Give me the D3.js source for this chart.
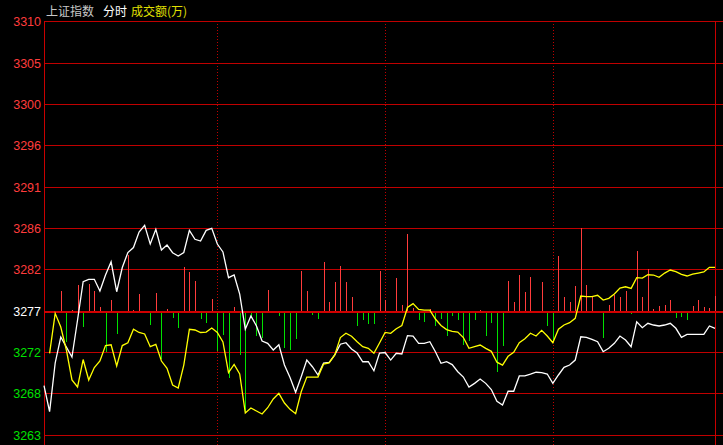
<!DOCTYPE html>
<html><head><meta charset="utf-8">
<script src="https://cdn.jsdelivr.net/npm/d3@7"></script>
<style>html,body{margin:0;padding:0;background:#000;overflow:hidden}</style>
</head><body><svg id="c" width="723" height="445"></svg>
<script>
// ---- data ----
const priceLine = [3268.63,3265.72,3271.18,3274.10,3272.98,3271.85,3276.01,3280.32,3280.59,3280.59,
3279.27,3281.07,3282.56,3279.19,3281.91,3283.60,3284.16,3285.90,3286.66,3284.55,
3286.21,3283.88,3284.44,3283.58,3283.21,3283.60,3286.09,3285.09,3284.89,3286.09,
3286.32,3284.55,3283.66,3280.77,3281.07,3278.93,3274.97,3276.46,3275.34,3273.65,
3273.39,3272.64,3273.23,3270.95,3269.55,3267.88,3269.64,3271.51,3270.76,3269.83,
3271.18,3271.26,3272.08,3273.29,3273.46,3272.75,3272.30,3271.32,3271.32,3270.30,
3272.30,3272.36,3271.51,3272.27,3272.19,3274.25,3274.19,3273.39,3273.39,3273.57,
3272.45,3271.14,3271.32,3271.00,3270.20,3269.60,3268.48,3268.89,3269.38,3268.89,
3268.19,3266.87,3266.46,3268.00,3268.00,3269.72,3269.72,3269.92,3270.14,3270.09,
3269.94,3268.89,3269.83,3270.69,3270.95,3271.51,3274.13,3274.07,3273.84,3273.57,
3272.45,3272.83,3273.39,3274.21,3273.76,3273.01,3275.82,3275.15,3275.64,3275.45,
3275.34,3275.45,3275.64,3275.08,3274.07,3274.40,3274.40,3274.40,3274.40,3275.34,
3275.08];
const avgLine = [null,3272.27,3276.76,3275.22,3272.64,3269.27,3268.48,3271.57,3269.27,3270.67,
3271.40,3273.14,3273.23,3270.84,3273.14,3273.46,3274.97,3274.61,3274.44,3273.01,
3273.28,3271.40,3270.58,3268.70,3268.37,3270.95,3274.97,3274.89,3274.61,3274.66,
3275.11,3274.61,3273.54,3270.11,3271.01,3269.94,3265.56,3266.12,3265.78,3265.44,
3266.15,3267.13,3267.77,3266.68,3265.97,3265.48,3267.95,3269.60,3269.60,3269.60,
3271.06,3271.18,3272.08,3274.04,3274.52,3274.18,3273.57,3273.01,3272.83,3272.27,
3273.43,3274.61,3274.52,3275.03,3275.39,3277.42,3277.85,3277.21,3277.13,3277.13,
3276.12,3275.39,3274.94,3274.74,3274.66,3274.04,3272.83,3273.01,3273.20,3272.83,
3272.49,3271.27,3270.95,3271.93,3272.39,3273.46,3273.90,3274.52,3274.21,3274.85,
3274.21,3273.46,3274.97,3275.45,3275.71,3276.20,3278.71,3278.63,3278.63,3278.79,
3278.26,3278.45,3278.93,3279.61,3279.75,3279.57,3280.77,3280.73,3281.10,3281.07,
3280.81,3281.29,3281.63,3281.44,3281.15,3280.96,3281.16,3281.29,3281.41,3281.94,
3281.94];
const amount = [0,-150,-100,2000,-3100,150,2600,-1600,2700,2000,
400,-4100,1100,-2300,-100,5600,150,1700,0,-1350,
1800,-4750,250,-700,-1700,4400,3900,3000,-800,-1200,
1250,-4000,-2350,-6700,450,-4350,-10000,-600,-2500,-2650,
2150,-100,-500,-3650,-3900,-2800,4050,2000,-350,-800,
4900,900,2900,4550,2900,1450,-1450,-900,-1300,-1300,
4050,1100,0,3350,650,7750,300,-850,-1050,200,
-1500,-800,-2450,-500,-850,-3400,-3000,-900,150,-2450,
-1150,-6100,-3450,3000,900,3650,1900,3400,0,2950,
-1450,-3100,5500,1400,900,2500,8300,2600,1500,0,
-2700,650,1600,1400,2050,-300,6000,1450,4250,250,
550,650,1100,-700,-550,-900,550,1100,450,350,
1500];
const yTicks = [3263.05,3267.70,3272.35,3277.00,3281.65,3286.30,3290.95,3295.60,3300.25,3304.90,3309.55];
const tickLabels = ["3263","3268","3272","3277","3282","3286","3291","3296","3300","3305","3310"];
const prevClose = 3277.00;
const sessionMarks = [31, 61, 91];
const titleParts = [{t:"上证指数", c:"#c8c8c8", x:46},{t:"分时", c:"#ffffff", x:103},{t:"成交额(万)", c:"#e0e000", x:131}];

// ---- layout ----
const svg = d3.select("#c");
const L = 44, R = 715, T = 21.7, B = 435.3, W = 723, H = 445;
svg.append("rect").attr("width", W).attr("height", H).attr("fill", "#000");

const x = d3.scaleLinear().domain([0, priceLine.length - 1]).range([L, R]);
const y = d3.scaleLinear().domain([yTicks[0], yTicks[yTicks.length-1]]).range([B, T]);
const barH = d3.scaleLinear().domain([0, 10000]).range([0, 100]);

// horizontal grid (1px rects on whole pixels)
svg.append("g").selectAll("rect").data(yTicks.filter(d => d !== prevClose)).join("rect")
  .attr("x", L).attr("width", W - L)
  .attr("y", d => Math.floor(y(d))).attr("height", 1)
  .attr("fill", "#c00000").attr("shape-rendering", "crispEdges");

// vertical session lines
svg.append("g").selectAll("line").data(sessionMarks).join("line")
  .attr("x1", d => Math.round(x(d)) + 0.5).attr("x2", d => Math.round(x(d)) + 0.5)
  .attr("y1", Math.floor(T)).attr("y2", H)
  .attr("stroke", "#c00000").attr("stroke-dasharray", "1,2").attr("shape-rendering", "crispEdges");

// frame lines
svg.append("g").selectAll("rect").data([L, R]).join("rect")
  .attr("x", d => d).attr("width", 1).attr("y", Math.floor(T)).attr("height", H - Math.floor(T))
  .attr("fill", "#c80000").attr("shape-rendering", "crispEdges");

// bars
svg.append("g").selectAll("line").data(amount.map((v, i) => ({v, i})).filter(d => d.v !== 0)).join("line")
  .attr("x1", d => Math.round(x(d.i)) + 0.5).attr("x2", d => Math.round(x(d.i)) + 0.5)
  .attr("y1", y(prevClose))
  .attr("y2", d => y(prevClose) - (d.v > 0 ? barH(d.v) : -barH(-d.v)))
  .attr("stroke", d => d.v > 0 ? "#ff3c3c" : "#00e000")
  .attr("stroke-width", 1).attr("shape-rendering", "crispEdges");

// baseline (previous close)
svg.append("rect").attr("x", L).attr("width", W - L)
  .attr("y", Math.floor(y(prevClose))).attr("height", 2)
  .attr("fill", "#d00000").attr("shape-rendering", "crispEdges");

// lines
const lineGen = d3.line().defined(d => d != null).x((d, i) => x(i)).y(d => y(d));
svg.append("path").datum(priceLine).attr("d", lineGen)
  .attr("fill", "none").attr("stroke", "#ffffff").attr("stroke-width", 1.3);
svg.append("path").datum(avgLine).attr("d", lineGen)
  .attr("fill", "none").attr("stroke", "#ffff00").attr("stroke-width", 1.3);

// y-axis labels
const ax = svg.append("g").attr("transform", `translate(${L},0)`)
  .call(d3.axisLeft(y).tickValues(yTicks).tickSize(0).tickPadding(3).tickFormat((d, i) => tickLabels[i]));
ax.select(".domain").remove();
ax.selectAll("text")
  .attr("font-family", "'Liberation Sans', Arial, sans-serif").attr("font-size", "12.5px")
  .attr("fill", (d) => Math.abs(d - prevClose) < 0.01 ? "#ffffff" : (d > prevClose ? "#ff3c3c" : "#00e000"));

// title
svg.append("g").selectAll("text").data(titleParts).join("text")
  .attr("x", d => d.x).attr("y", 16)
  .attr("font-family", "'Noto Sans CJK SC', sans-serif").attr("font-size", "12px")
  .attr("fill", d => d.c).text(d => d.t);
</script>
</body></html>
